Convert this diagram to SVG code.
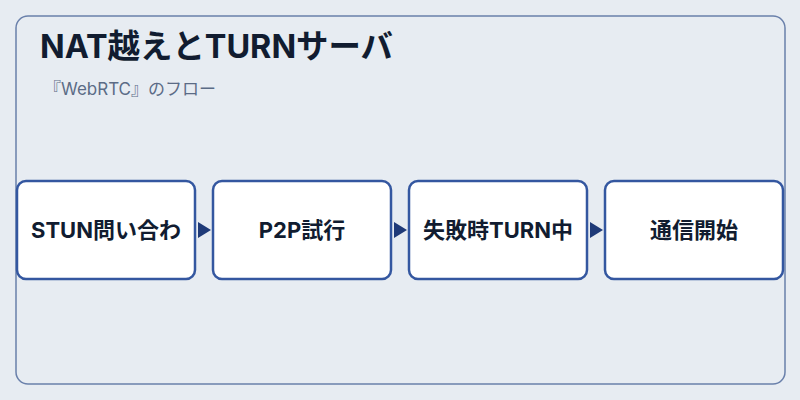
<svg xmlns="http://www.w3.org/2000/svg" width="800" height="400" viewBox="0 0 800 400">
<defs>
<style>
.title{font-family:Inter,"Noto Sans CJK JP",sans-serif;font-weight:700;font-size:32.4px;fill:#111c30}
.sub{font-family:Inter,"Noto Sans CJK JP",sans-serif;font-size:17px;fill:#5b6b86}
.box{fill:#ffffff;stroke:#3457a0;stroke-width:2.5}
.lbl{font-family:Inter,"Noto Sans CJK JP",sans-serif;font-weight:700;font-size:22px;fill:#111c30;text-anchor:middle}
.arr{fill:#1f3a78}
</style>
</defs>
<rect width="800" height="400" fill="#e7ecf2"/>
<rect x="16" y="16" width="769" height="368" rx="12" fill="#e7ecf2" stroke="#6a80ab" stroke-width="1.5"/>
<text class="title" x="40" y="58">NAT越えとTURNサーバ</text>
<text class="sub" x="44" y="95">『WebRTC』のフロー</text>
<g id="connectors">
<path class="arr" d="M198,222 L211,230 L198,238 Z"/>
<path class="arr" d="M394,222 L407,230 L394,238 Z"/>
<path class="arr" d="M590,222 L603,230 L590,238 Z"/>
</g>
<g id="node1"><rect class="box" x="17" y="181" width="178" height="98" rx="9"/><text class="lbl" x="106" y="238">STUN問い合わ</text></g>
<g id="node2"><rect class="box" x="213" y="181" width="178" height="98" rx="9"/><text class="lbl" x="302" y="238">P2P試行</text></g>
<g id="node3"><rect class="box" x="409" y="181" width="178" height="98" rx="9"/><text class="lbl" x="498" y="238">失敗時TURN中</text></g>
<g id="node4"><rect class="box" x="605" y="181" width="178" height="98" rx="9"/><text class="lbl" x="694" y="238">通信開始</text></g>
</svg>
